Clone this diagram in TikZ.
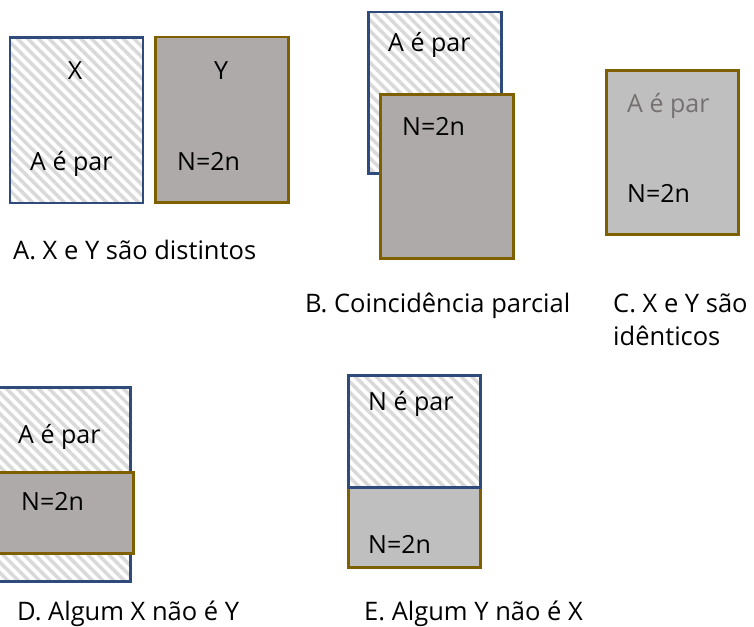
\documentclass[tikz,border=0pt]{standalone}
\usepackage{fontspec}
\setmainfont{Open Sans}
\usetikzlibrary{patterns.meta}
\definecolor{xblue}{HTML}{2F4B7C}
\definecolor{ygold}{HTML}{7F6000}
\definecolor{ygray}{HTML}{AEAAAA}
\definecolor{zgray}{HTML}{BFBFBF}
\definecolor{hatch}{HTML}{D9D9D9}
\definecolor{faint}{HTML}{767171}
\tikzset{box/.style={rectangle,inner sep=0pt,anchor=north west,line width=2.5pt}}
\tikzset{xbox/.style={box,draw=xblue,pattern={Lines[angle=-45,distance=7.5pt,line width=3.5pt]},pattern color=hatch}}
\tikzset{ybox/.style={box,draw=ygold,fill=ygray}}
\tikzset{zbox/.style={box,draw=ygold,fill=zgray}}
\tikzset{wh/.style 2 args={minimum width=#1pt,minimum height=#2pt}}
\tikzset{txt/.style={anchor=base west,inner sep=0pt,font=\fontsize{25}{30}\selectfont}}
\tikzset{capt/.style={txt,font=\fontsize{25.5}{31}\selectfont}}

\begin{document}
\begin{tikzpicture}[x=1pt,y=-1pt]
\useasboundingbox(0,0)rectangle(754,626);\clip(0,0)rectangle(754,626);
% A
\node(xa)[xbox,wh={133}{165}]at(8,36){};\node(ya)[ybox,wh={133}{165}]at(154,36){};
\node(xat)[txt,anchor=base]at(75,79){X};\node(yat)[txt,anchor=base]at(221,79){Y};
\node(xal)[txt]at(30,170){A é par};\node(yal)[txt]at(177,170){N=2n};
\node(capa)[capt]at(13,259){A. X e Y são distintos};
% B
\node(xb)[xbox,wh={133}{161}]at(367,11){};\node(yb)[ybox,wh={133}{164}]at(379,93){};
\node(xbl)[txt]at(388,52){A é par};\node(ybl)[txt]at(402,135){N=2n};
\node(capb)[capt]at(305,312){B. Coincidência parcial};
% C
\node(zc)[zbox,wh={132}{164}]at(605,69){};
\node(xcl)[txt,text=faint]at(627,112){A é par};\node(ycl)[txt]at(627,202){N=2n};
\node(capc)[capt]at(613,312){C. X e Y são};\node(capc2)[capt]at(613,345){idênticos};
% D
\node(xd)[xbox,wh={139}{194}]at(-10,386){};\node(yd)[ybox,wh={142}{81}]at(-10,471){};
\node(xdl)[txt]at(18,443){A é par};\node(ydl)[txt]at(21,510){N=2n};
\node(capd)[capt]at(17,620){D. Algum X não é Y};
% E
\node(ye)[zbox,wh={132}{80}]at(347,486){};\node(xe)[xbox,wh={132}{112}]at(347,374){};
\node(xel)[txt]at(368,410){N é par};\node(yel)[txt]at(368,553){N=2n};
\node(cape)[capt]at(364,620){E. Algum Y não é X};
\end{tikzpicture}
\end{document}
